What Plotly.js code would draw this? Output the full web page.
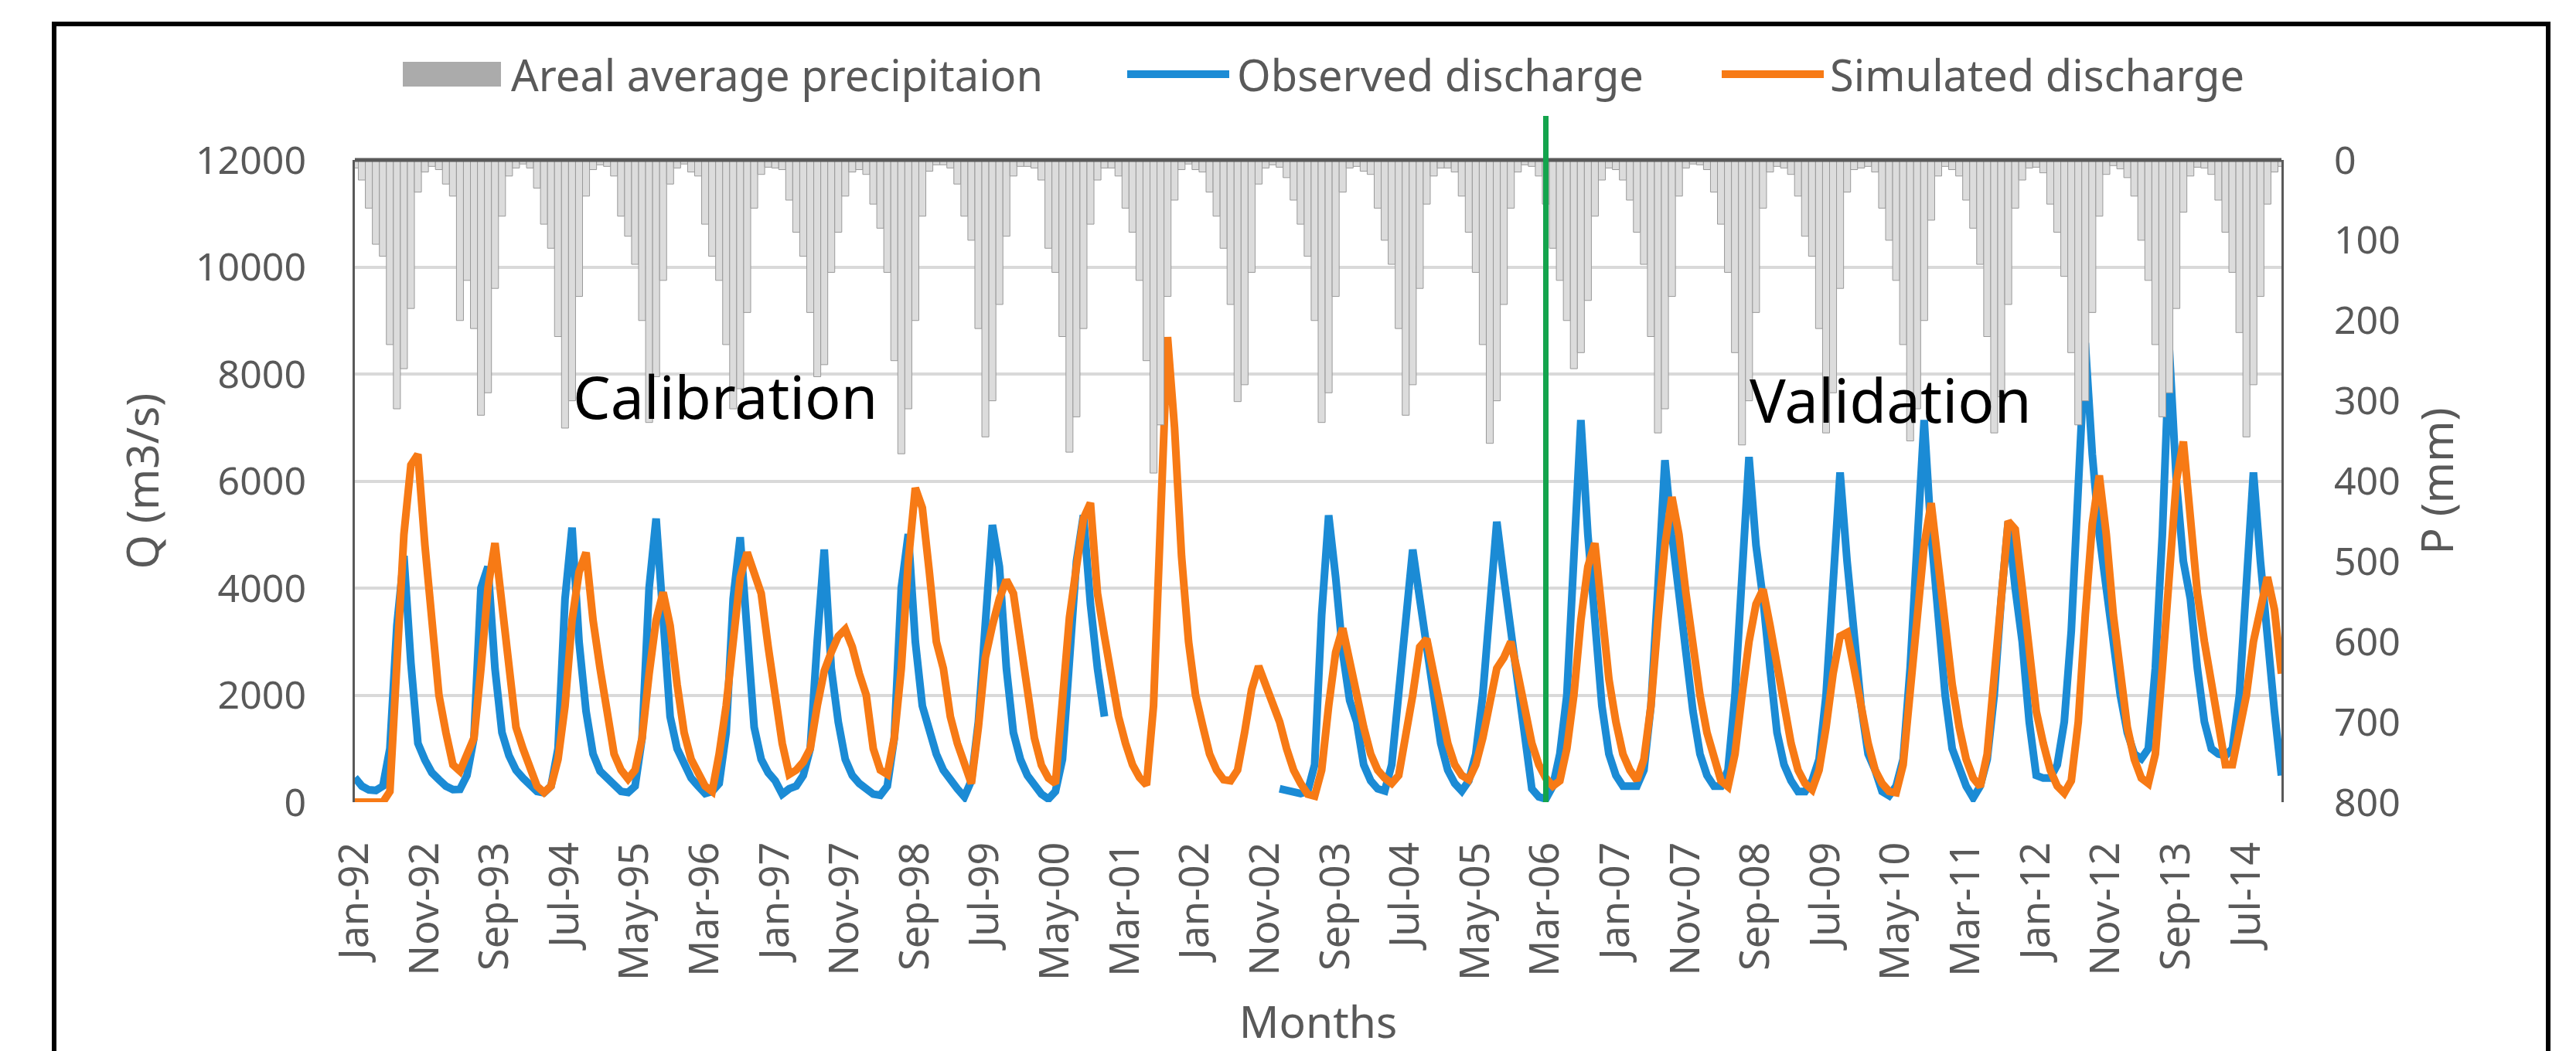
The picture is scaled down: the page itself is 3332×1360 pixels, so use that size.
<!DOCTYPE html>
<html>
<head>
<meta charset="utf-8">
<script src="https://cdn.plot.ly/plotly-3.0.1.min.js"></script>
<style>
html, body { margin: 0; padding: 0; background: #ffffff; }
#chart { width: 3332px; height: 1360px; }
</style>
</head>
<body>
<div id="chart"></div>
<script>
// ---------------- DATA ----------------
const monthNames = ['Jan','Feb','Mar','Apr','May','Jun','Jul','Aug','Sep','Oct','Nov','Dec'];
const years = [1992,1993,1994,1995,1996,1997,1998,1999,2000,2001,2002,2003,2004,2005,2006,2007,2008,2009,2010,2011,2012,2013,2014];

const tickLabels = ['Jan-92','Nov-92','Sep-93','Jul-94','May-95','Mar-96','Jan-97','Nov-97','Sep-98','Jul-99',
  'May-00','Mar-01','Jan-02','Nov-02','Sep-03','Jul-04','May-05','Mar-06','Jan-07','Nov-07','Sep-08','Jul-09',
  'May-10','Mar-11','Jan-12','Nov-12','Sep-13','Jul-14'];

// Areal average precipitation (mm), one row per year Jan..Dec
const precipitation = [
  10, 25, 60, 105, 120, 230, 310, 260, 185, 40, 15, 8,
  12, 30, 45, 200, 150, 210, 318, 290, 160, 70, 20, 10,
  5, 10, 35, 80, 110, 220, 334, 300, 170, 45, 12, 6,
  8, 20, 70, 95, 130, 200, 327, 270, 150, 30, 10, 5,
  15, 20, 80, 120, 150, 230, 310, 285, 190, 60, 18, 9,
  10, 12, 50, 90, 120, 190, 270, 255, 140, 90, 45, 15,
  12, 18, 55, 85, 140, 250, 366, 310, 200, 70, 14, 6,
  6, 10, 30, 70, 100, 210, 345, 300, 180, 95, 20, 8,
  8, 10, 25, 110, 140, 220, 364, 320, 210, 80, 25, 10,
  10, 20, 60, 90, 150, 250, 390, 330, 170, 50, 12, 5,
  12, 15, 40, 70, 110, 180, 301, 280, 140, 30, 10, 6,
  9, 22, 50, 80, 120, 200, 327, 290, 170, 40, 10, 8,
  14, 18, 60, 100, 130, 210, 318, 280, 160, 55, 20, 10,
  10, 15, 45, 90, 140, 230, 353, 300, 180, 60, 15, 6,
  8, 20, 55, 110, 150, 200, 260, 240, 175, 70, 25, 10,
  12, 25, 50, 90, 130, 220, 340, 310, 170, 45, 10, 5,
  6, 12, 40, 80, 140, 240, 355, 300, 190, 60, 15, 8,
  10, 18, 45, 95, 120, 210, 340, 290, 160, 40, 12, 10,
  8, 15, 60, 100, 150, 230, 350, 310, 200, 75, 20, 8,
  12, 20, 50, 85, 130, 220, 340, 295, 180, 60, 25, 10,
  9, 16, 55, 90, 145, 240, 330, 300, 190, 70, 18, 7,
  11, 22, 45, 100, 150, 230, 320, 290, 185, 65, 20, 9,
  10, 18, 50, 90, 140, 215, 345, 280, 170, 55, 15, 8
];

// Observed discharge (m3/s), one row per year Jan..Dec (null = no record)
const observed = [
  460, 300, 230, 220, 300, 1000, 3300, 4600, 2600, 1100, 790, 550,
  420, 300, 235, 240, 500, 1200, 4000, 4400, 2500, 1300, 870, 600,
  450, 300, 200, 176, 300, 1000, 3800, 5130, 3000, 1700, 900, 580,
  450, 350, 200, 180, 300, 1200, 4000, 5300, 3300, 1600, 1000, 700,
  450, 300, 160, 200, 350, 1300, 3800, 4950, 3000, 1400, 800, 550,
  400, 150, 250, 300, 500, 1000, 3000, 4720, 2500, 1500, 800, 500,
  350, 250, 150, 130, 300, 1200, 4000, 5010, 3000, 1800, 1300, 900,
  600, 400, 250, 100, 400, 1500, 3500, 5180, 4400, 2500, 1300, 800,
  500, 300, 150, 60, 200, 800, 2500, 4500, 5360, 3700, 2500, 1600,
  null, null, null, null, null, null, null, null, null, null, null, null,
  null, null, null, null, null, null, null, null, null, null, null, null,
  250, 230, 200, 160, 200, 700, 3500, 5360, 4200, 2800, 1900, 1500,
  700, 400, 250, 210, 700, 2000, 3500, 4720, 3800, 3000, 2000, 1100,
  600, 350, 210, 400, 900, 2000, 3800, 5240, 4200, 3190, 2000, 1100,
  250, 100, 60, 300, 900, 2000, 4500, 7140, 5000, 3200, 1800, 900,
  500, 300, 300, 300, 600, 1800, 4000, 6390, 5000, 4000, 2800, 1700,
  900, 500, 300, 300, 600, 2000, 4500, 6450, 4800, 3800, 2500, 1300,
  700, 400, 200, 200, 400, 800, 2000, 4000, 6160, 4500, 3200, 1800,
  900, 600, 200, 120, 300, 800, 2500, 5000, 7140, 5000, 3500, 2000,
  1000, 600, 300, 80, 300, 800, 2000, 3800, 5240, 4000, 3000, 1500,
  500, 450, 450, 700, 1500, 3200, 6000, 8580, 6500, 5000, 4000, 3000,
  2000, 1300, 900, 810, 1000, 2500, 5000, 8460, 6000, 4500, 3800, 2500,
  1500, 1000, 900, 868, 1000, 2000, 4000, 6160, 4500, 3000, 1700, 500
];

// Simulated discharge (m3/s), one row per year Jan..Dec
const simulated = [
  0, 0, 0, 0, 0, 200, 2400, 5000, 6300, 6500, 4800, 3300,
  2000, 1300, 700, 580, 900, 1200, 2500, 4000, 4840, 3600, 2300, 1400,
  1000, 600, 300, 180, 300, 800, 1800, 3400, 4300, 4665, 3400, 2500,
  1600, 900, 600, 435, 600, 1200, 2400, 3400, 3920, 3300, 2200, 1300,
  800, 580, 300, 200, 900, 1800, 3000, 4200, 4665, 4300, 3900, 2900,
  1900, 1100, 520, 600, 750, 1000, 1800, 2450, 2800, 3100, 3230, 2900,
  2400, 2000, 1000, 600, 520, 1200, 2500, 4500, 5870, 5500, 4300, 3000,
  2500, 1600, 1100, 750, 350, 1400, 2700, 3300, 3800, 4150, 3900, 3000,
  2000, 1200, 690, 450, 350, 2000, 3450, 4400, 5300, 5590, 3900, 3100,
  2300, 1600, 1100, 700, 460, 320, 1800, 5600, 8690, 7000, 4600, 3000,
  2000, 1440, 900, 600, 420, 400, 600, 1300, 2100, 2540, 2200, 1800,
  1500, 1000, 600, 350, 150, 115, 600, 1800, 2800, 3250, 2600, 1900,
  1400, 900, 600, 450, 350, 500, 1200, 2000, 2900, 3050, 2400, 1700,
  1100, 700, 500, 420, 700, 1200, 1900, 2500, 2700, 2996, 2400, 1700,
  1100, 700, 450, 300, 400, 1000, 2000, 3400, 4400, 4838, 3600, 2300,
  1500, 900, 600, 410, 800, 1800, 3400, 4800, 5700, 5000, 3900, 2900,
  2000, 1300, 800, 400, 290, 900, 2000, 3000, 3700, 3975, 3300, 2500,
  1800, 1100, 600, 350, 234, 600, 1400, 2400, 3100, 3169, 2500, 1700,
  1100, 600, 350, 200, 176, 700, 2000, 3500, 4800, 5586, 4500, 3200,
  2200, 1400, 800, 450, 290, 900, 2200, 3800, 5250, 5100, 4000, 2700,
  1700, 1100, 600, 300, 170, 400, 1500, 3500, 5200, 6104, 5000, 3500,
  2300, 1400, 800, 450, 350, 900, 2500, 4500, 6000, 6737, 5200, 3900,
  3000, 2200, 1400, 700, 700, 1400, 2000, 3000, 3700, 4205, 3600, 2400
];

const splitMonth = 'Mar-06';

// ---------------- BUILD ----------------
const months = [];
years.forEach(y => monthNames.forEach(m => months.push(m + '-' + String(y).slice(2))));

const W = 3332, H = 1360;
const L = 459, R = 2951, T = 207, B = 1038;   // plot area in pixels
const px = x => (x - L) / (R - L);
const py = y => (B - y) / (B - T);

const FONT = "'Noto Sans', 'DejaVu Sans', sans-serif";
const GRAY = '#595959';
const BLUE = '#1b8bd5';
const ORANGE = '#f77a15';

const traces = [
  {
    type: 'bar', name: 'Areal average precipitaion', x: months, y: precipitation,
    xaxis: 'x', yaxis: 'y2',
    marker: { color: '#dcdcdc', line: { color: '#9a9a9a', width: 1 } },
    showlegend: false, hoverinfo: 'x+y'
  },
  {
    type: 'scatter', mode: 'lines', name: 'Observed discharge', x: months, y: observed,
    line: { color: BLUE, width: 10 }, connectgaps: false, showlegend: false
  },
  {
    type: 'scatter', mode: 'lines', name: 'Simulated discharge', x: months, y: simulated,
    line: { color: ORANGE, width: 10 }, showlegend: false
  }
];

const splitIndex = months.indexOf(splitMonth);

const legendY = 96;
const shapes = [
  // outer frame
  { type: 'rect', xref: 'paper', yref: 'paper', x0: px(70), x1: px(3296), y0: py(1420), y1: py(31),
    line: { color: '#000000', width: 6 }, fillcolor: 'rgba(0,0,0,0)', layer: 'below' },
  // top axis line (secondary category axis)
  { type: 'line', xref: 'paper', yref: 'paper', x0: 0, x1: 1, y0: 1, y1: 1,
    line: { color: '#595959', width: 5 } },
  // calibration / validation split
  { type: 'line', xref: 'x', yref: 'paper', x0: splitIndex, x1: splitIndex, y0: 0, y1: py(150),
    line: { color: '#14a44d', width: 7 } },
  // legend symbols
  { type: 'rect', xref: 'paper', yref: 'paper', x0: px(521), x1: px(648), y0: py(112), y1: py(80),
    fillcolor: '#ababab', line: { width: 0 } },
  { type: 'line', xref: 'paper', yref: 'paper', x0: px(1458), x1: px(1590), y0: py(legendY), y1: py(legendY),
    line: { color: BLUE, width: 10 } },
  { type: 'line', xref: 'paper', yref: 'paper', x0: px(2227), x1: px(2359), y0: py(legendY), y1: py(legendY),
    line: { color: ORANGE, width: 10 } }
];

const legendFont = { family: FONT, size: 56, color: GRAY };
const annotations = [
  { xref: 'paper', yref: 'paper', x: px(659), y: py(legendY), xanchor: 'left', yanchor: 'middle',
    text: traces[0].name, showarrow: false, font: legendFont },
  { xref: 'paper', yref: 'paper', x: px(1598), y: py(legendY), xanchor: 'left', yanchor: 'middle',
    text: traces[1].name, showarrow: false, font: legendFont },
  { xref: 'paper', yref: 'paper', x: px(2365), y: py(legendY), xanchor: 'left', yanchor: 'middle',
    text: traces[2].name, showarrow: false, font: legendFont },
  { xref: 'paper', yref: 'paper', x: px(938), y: py(512), xanchor: 'center', yanchor: 'middle',
    text: 'Calibration', showarrow: false, font: { family: FONT, size: 77, color: '#000000' } },
  { xref: 'paper', yref: 'paper', x: px(2445), y: py(517), xanchor: 'center', yanchor: 'middle',
    text: 'Validation', showarrow: false, font: { family: FONT, size: 78, color: '#000000' } }
];

const layout = {
  width: W, height: H,
  margin: { l: L, r: W - R, t: T, b: H - B, pad: 0 },
  paper_bgcolor: '#ffffff', plot_bgcolor: '#ffffff',
  font: { family: FONT, color: GRAY },
  bargap: 0,
  showlegend: false,
  xaxis: {
    type: 'category', range: [0, months.length - 1], autorange: false,
    tickmode: 'array', tickvals: tickLabels, ticktext: tickLabels,
    tickangle: -90, tickfont: { family: FONT, size: 52, color: GRAY },
    ticks: 'outside', ticklen: 30, tickcolor: 'rgba(0,0,0,0)',
    showgrid: false, showline: false, zeroline: false, automargin: false,
    title: { text: 'Months', font: { family: FONT, size: 57, color: GRAY }, standoff: 40 }
  },
  yaxis: {
    range: [0, 12000], autorange: false, tickmode: 'linear', tick0: 0, dtick: 2000, tickformat: 'd',
    tickfont: { family: FONT, size: 50, color: GRAY },
    ticks: 'outside', ticklen: 50, tickcolor: 'rgba(0,0,0,0)',
    showgrid: true, gridcolor: '#d9d9d9', gridwidth: 4,
    zeroline: false, showline: true, linecolor: '#595959', linewidth: 3, automargin: false,
    title: { text: 'Q (m3/s)', font: { family: FONT, size: 57, color: GRAY }, standoff: 30 }
  },
  yaxis2: {
    overlaying: 'y', side: 'right', range: [800, 0], autorange: false,
    tickmode: 'linear', tick0: 0, dtick: 100,
    tickfont: { family: FONT, size: 50, color: GRAY },
    ticks: 'outside', ticklen: 55, tickcolor: 'rgba(0,0,0,0)',
    showgrid: false, zeroline: false, showline: true, linecolor: '#595959', linewidth: 3, automargin: false,
    title: { text: 'P (mm)', font: { family: FONT, size: 57, color: GRAY }, standoff: 30 }
  },
  shapes: shapes,
  annotations: annotations
};

Plotly.newPlot('chart', traces, layout, { displayModeBar: false, responsive: false, staticPlot: true });
</script>
</body>
</html>
